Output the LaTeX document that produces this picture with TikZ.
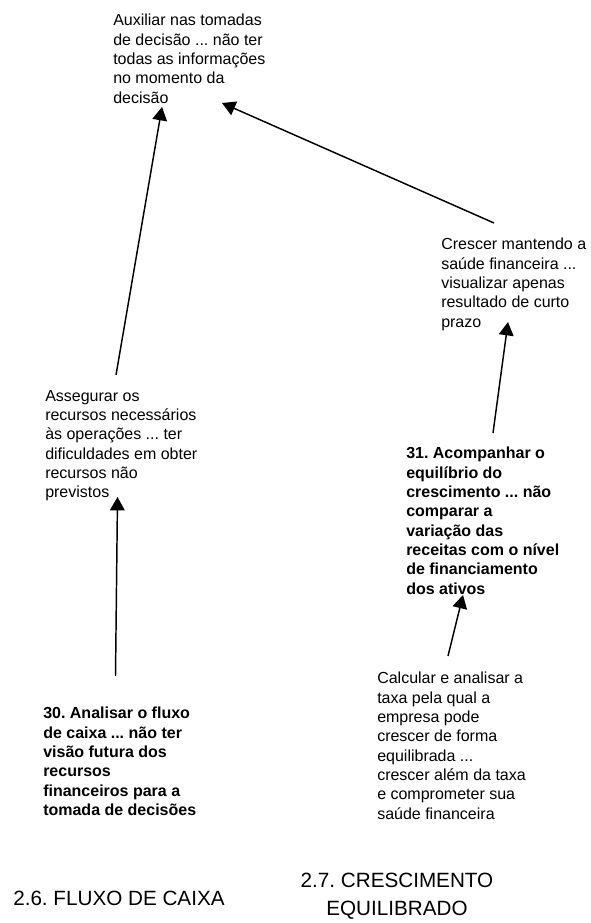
\documentclass[tikz,border=0pt]{standalone}
\usepackage{fontspec}
\setmainfont{Liberation Sans}
\usetikzlibrary{arrows.meta}
\frenchspacing
\tikzset{
  txt/.style={anchor=north west, inner sep=0pt, align=left, font=\fontsize{12}{14.5}\selectfont},
  btxt/.style={txt, font=\fontsize{12}{14.5}\selectfont\bfseries},
  head/.style={inner sep=0pt, font=\fontsize{15.5}{20.5}\selectfont},
  arr/.style={line width=1.1pt, -{Triangle[length=10pt,width=11pt]}}
}
\begin{document}
\begin{tikzpicture}[x=0.75pt,y=-0.75pt]
\useasboundingbox (0,0) rectangle (591,923);
\node[txt] (A) at (113,14) {Auxiliar nas tomadas\\de decisão ... não ter\\todas as informações\\no momento da\\decisão};
\node[txt] (B) at (441,238) {Crescer mantendo a\\saúde financeira ...\\visualizar apenas\\resultado de curto\\prazo};
\node[txt] (C) at (45,390) {Assegurar os\\recursos necessários\\às operações ... ter\\dificuldades em obter\\recursos não\\previstos};
\node[btxt] (D) at (406,447) {31. Acompanhar o\\equilíbrio do\\crescimento ... não\\comparar a\\variação das\\receitas com o nível\\de financiamento\\dos ativos};
\node[txt] (F) at (377,672) {Calcular e analisar a\\taxa pela qual a\\empresa pode\\crescer de forma\\equilibrada ...\\crescer além da taxa\\e comprometer sua\\saúde financeira};
\node[btxt] (E) at (43,707) {30. Analisar o fluxo\\de caixa ... não ter\\visão futura dos\\recursos\\financeiros para a\\tomada de decisões};
\node[head, anchor=base west] (G) at (13,905) {2.6. FLUXO DE CAIXA};
\node[head, anchor=north, align=center] (H) at (397,873) {2.7. CRESCIMENTO\\EQUILIBRADO};
\draw[arr] ([shift={(71,-15)}]C.north west) -- ([shift={(49,93)}]A.north west);
\draw[arr] ([shift={(53,-15)}]B.north west) -- ([shift={(109,89)}]A.north west);
\draw[arr] ([shift={(87,-14)}]D.north west) -- ([shift={(67,84)}]B.north west);
\draw[arr] ([shift={(71,-16)}]F.north west) -- ([shift={(57,148)}]D.north west);
\draw[arr] ([shift={(72.5,-31)}]E.north west) -- ([shift={(72.5,107)}]C.north west);
\end{tikzpicture}
\end{document}
